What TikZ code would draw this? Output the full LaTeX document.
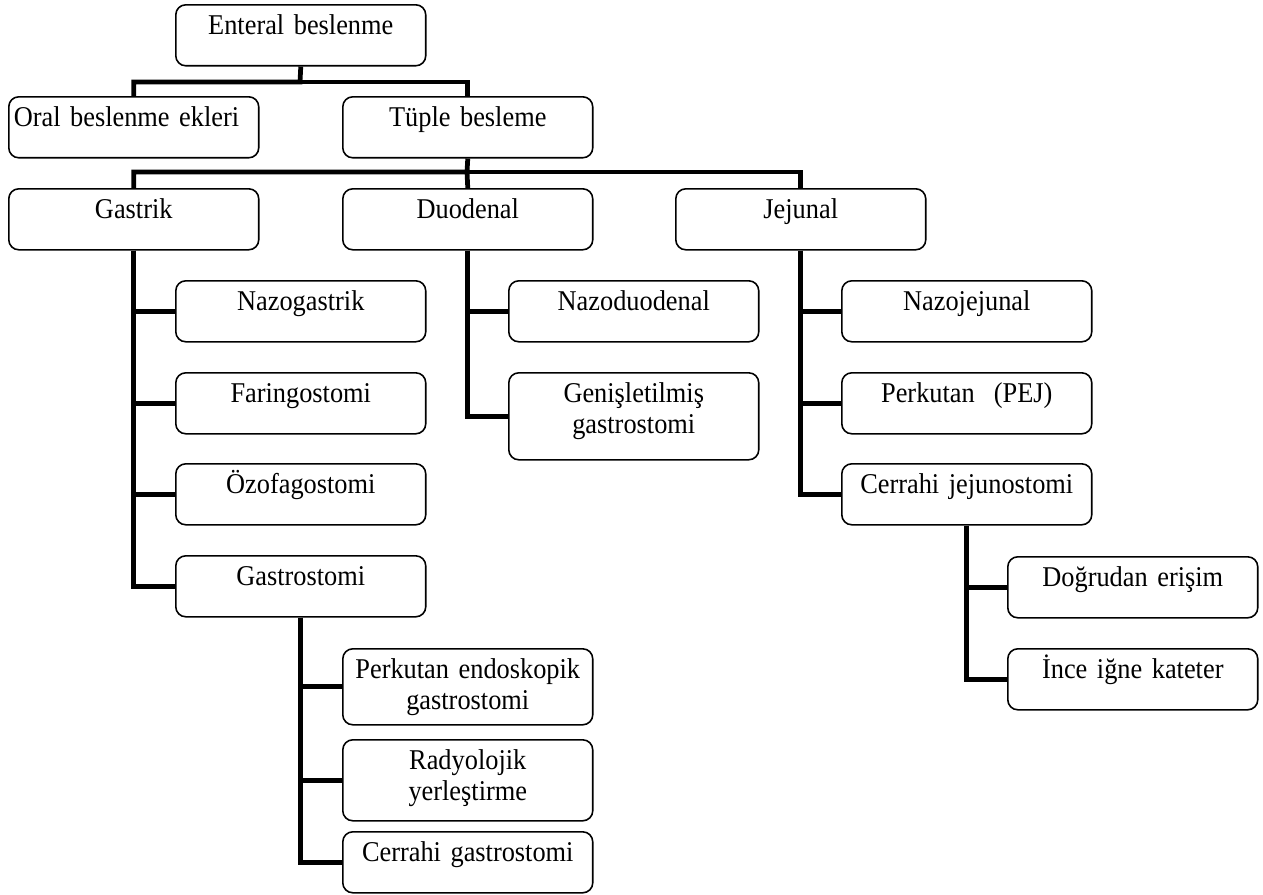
\documentclass[tikz,border=0pt]{standalone}
\usepackage{fontspec}
\setmainfont{Liberation Serif}[FakeStretch=0.92]
\usetikzlibrary{positioning}

\begin{document}
\begin{tikzpicture}[x=0.02cm, y=-0.02cm,
    box/.style={draw, line width=0.9pt, rounded corners=0.2cm, anchor=north west, inner xsep=0.1cm, inner ysep=0pt,
        text width=4.8cm, align=center, text height=0.6cm, text depth=0.62cm, font=\fontsize{16.3}{17.5}\selectfont},
    bus/.style={line width=2.7pt}]
    \useasboundingbox (0,0) rectangle (1263,894);
    \node[box] (enteral) at (175,4) {Enteral beslenme};
    \node[box, align=left] (oral) at (8,96) {Oral beslenme ekleri};
    \node[box] (tuple) at (342,96) {Tüple besleme};
    \node[box] (gastrik) at (8,188) {Gastrik};
    \node[box] (duodenal) at (342,188) {Duodenal};
    \node[box] (jejunal) at (675,188) {Jejunal};
    \node[box] (nazog) at (175,280) {Nazogastrik};
    \node[box] (faring) at (175,372) {Faringostomi};
    \node[box] (ozofag) at (175,463) {Özofagostomi};
    \node[box] (gastro) at (175,555) {Gastrostomi};
    \node[box] (nazod) at (508,280) {Nazoduodenal};
    \node[box, text depth=1.14cm] (genis) at (508,372) {Genişletilmiş\\gastrostomi};
    \node[box] (nazoj) at (841,280) {Nazojejunal};
    \node[box] (perk) at (841,372) {Perkutan~~(PEJ)};
    \node[box] (cerrj) at (841,463) {Cerrahi jejunostomi};
    \node[box] (dogru) at (1007,556) {Doğrudan erişim};
    \node[box] (ince) at (1007,648) {İnce iğne kateter};
    \node[box, text depth=0.92cm] (peg) at (342,648) {Perkutan endoskopik\\gastrostomi};
    \node[box, text depth=1.02cm] (rady) at (342,739) {Radyolojik\\yerleştirme};
    \node[box] (cerrg) at (342,831) {Cerrahi gastrostomi};

    \coordinate (b1) at (300,82);
    \coordinate (b2) at (467,172);
    \draw[bus] (enteral.south) -- (b1) -| (oral.north);
    \draw[bus] (b1) -| (tuple.north);
    \draw[bus] (tuple.south) -- (b2) -| (gastrik.north);
    \draw[bus] (b2) -- (duodenal.north);
    \draw[bus] (b2) -| (jejunal.north);
    \foreach \c in {nazog,faring,ozofag,gastro}
        \draw[bus] (gastrik.south) |- (\c.west);
    \foreach \c in {nazod,genis}
        \draw[bus] (duodenal.south) |- (\c.west);
    \foreach \c in {nazoj,perk,cerrj}
        \draw[bus] (jejunal.south) |- (\c.west);
    \foreach \c in {peg,rady,cerrg}
        \draw[bus] (gastro.south) |- (\c.west);
    \foreach \c in {dogru,ince}
        \draw[bus] (cerrj.south) |- (\c.west);
\end{tikzpicture}
\end{document}
